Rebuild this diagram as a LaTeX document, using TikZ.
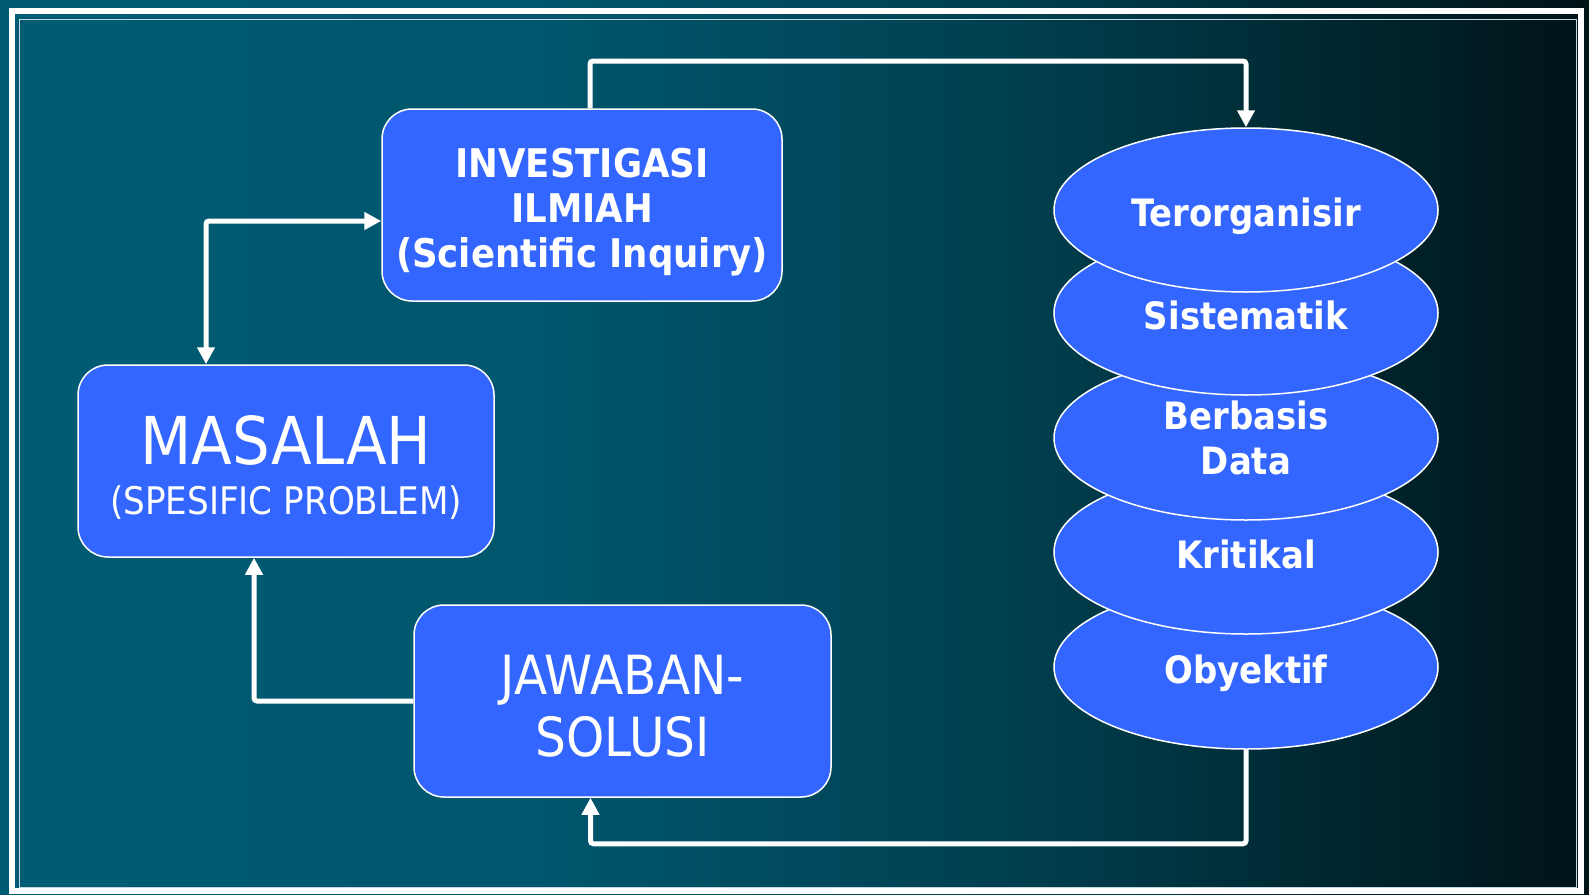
\documentclass[tikz,border=0pt]{standalone}
\usepackage{fontspec}
\setmainfont[FakeStretch=0.9]{DejaVu Sans}
\usetikzlibrary{arrows.meta,shapes.geometric}

\definecolor{boxblue}{RGB}{51,102,255}
\definecolor{framegray}{RGB}{196,214,222}
\pgfdeclarehorizontalshading{bgshade}{100bp}{rgb(0bp)=(0,0.36,0.455); rgb(25bp)=(0,0.36,0.455); rgb(42bp)=(0,0.34,0.43); rgb(58bp)=(0,0.24,0.30); rgb(75bp)=(0,0.075,0.09); rgb(100bp)=(0,0.075,0.09)}
\newcommand{\toplift}[1]{\rule{0pt}{#1}}

\begin{document}
\begin{tikzpicture}[x=1pt,y=-1pt,
    box/.style={draw=white,line width=1.5pt,fill=boxblue,rounded corners=30pt,
                text=white,align=center,minimum height=192pt,inner sep=0pt,
                text depth=0pt},
    oval/.style={ellipse,draw=white,line width=1.5pt,fill=boxblue,
                 minimum width=384pt,minimum height=164pt,inner sep=0pt,text depth=0pt,
                 text=white,align=center,font=\bfseries\fontsize{37.7}{45}\selectfont,
                 execute at begin node={\toplift{33pt}}},
    link/.style={draw=white,line width=5pt,rounded corners=3pt,
                 -{Triangle[length=17pt,width=17pt]}}]

  % background and frame
  \useasboundingbox (0,0) rectangle (1589,894);
  \shade[shading=bgshade] (0,0) rectangle (1589,894);
  \draw[white,line width=6pt] (12,10.5) rectangle (1581,891);
  \draw[framegray,line width=1.5pt] (19.7,19.7) rectangle (1576.5,887.5);

  % boxes
  \node[box,minimum width=400pt,font=\bfseries\fontsize{39.5}{45}\selectfont]
        (invest) at (582,205) {\toplift{35pt}INVESTIGASI\\ILMIAH\\(Scientific Inquiry)};
  \node[box,minimum width=416pt,font=\fontsize{38}{50}\selectfont]
        (masalah) at (286,461) {{\fontsize{66}{50}\selectfont\toplift{56pt}MASALAH}\\(SPESIFIC PROBLEM)};
  \node[box,minimum width=417pt,font=\fontsize{54}{62}\selectfont]
        (jawaban) at (622.5,701) {\toplift{48pt}JAWABAN-\\SOLUSI};

  % stacked ovals, lowest first
  \node[oval] (obyek)  at (1246,667) {Obyektif};
  \node[oval] (kritik) at (1246,552) {Kritikal};
  \node[oval] (data)   at (1246,438) {Berbasis\\Data};
  \node[oval] (sistem) at (1246,313) {Sistematik};
  \node[oval] (teror)  at (1246,210) {Terorganisir};

  % connectors
  \coordinate (top) at (1246,61);
  \draw[link] ([xshift=8pt]invest.north) |- (top) -- (teror.north);
  \draw[link,{Triangle[length=17pt,width=17pt]}-{Triangle[length=17pt,width=17pt]}]
        ([xshift=-80pt]masalah.north) |- ([yshift=-16pt]invest.west);
  \draw[link] (jawaban.west) -| ([xshift=-32pt]masalah.south);
  \draw[link] (obyek.south) |- ([xshift=-32pt,yshift=-46pt]jawaban.south)
        -- ([xshift=-32pt]jawaban.south);

\end{tikzpicture}
\end{document}
